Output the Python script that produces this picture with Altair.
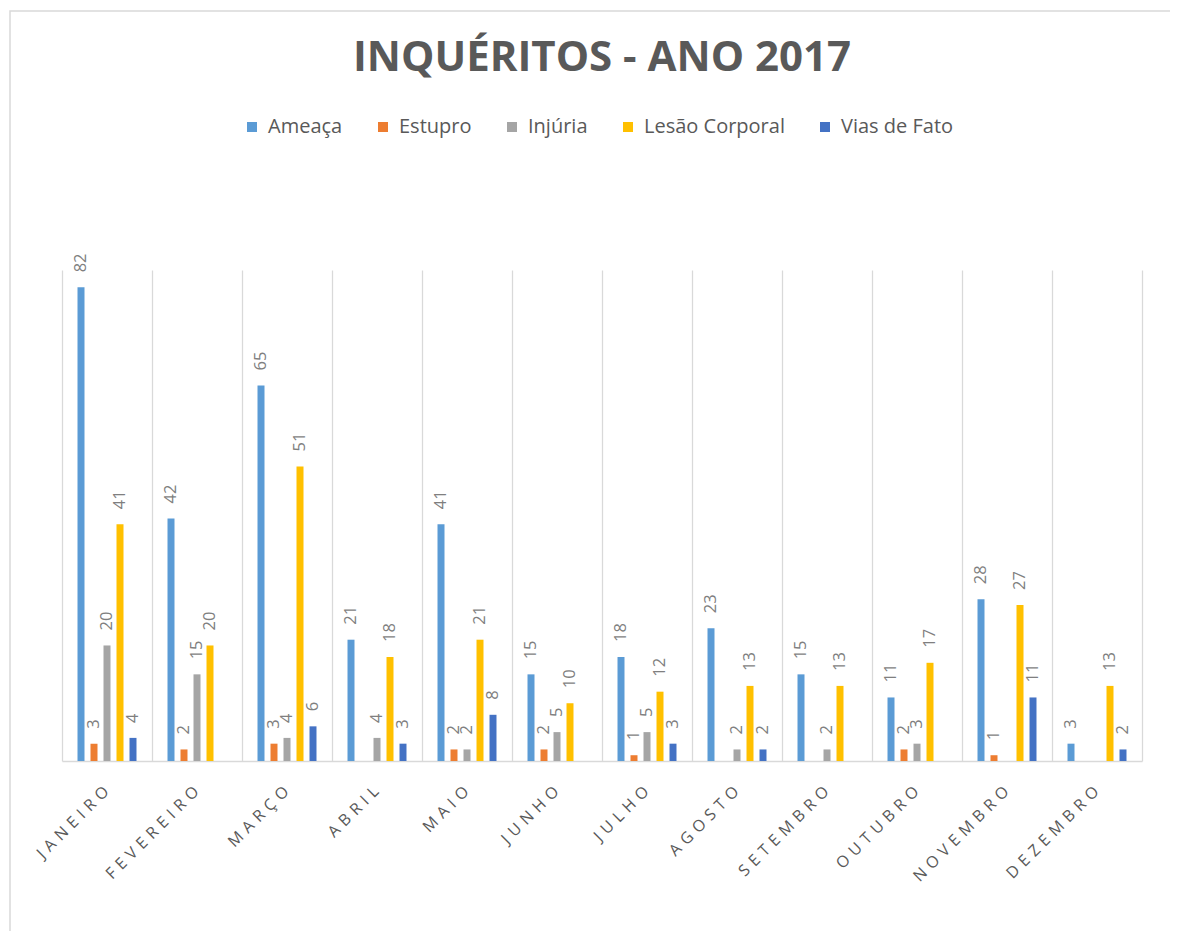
import altair as alt
import pandas as pd

months = ["JANEIRO", "FEVEREIRO", "MARÇO", "ABRIL", "MAIO", "JUNHO",
          "JULHO", "AGOSTO", "SETEMBRO", "OUTUBRO", "NOVEMBRO", "DEZEMBRO"]
series = ["Ameaça", "Estupro", "Injúria", "Lesão Corporal", "Vias de Fato"]
colors = ["#5B9BD5", "#ED7D31", "#A5A5A5", "#FFC000", "#4472C4"]

ameaca = [82, 42, 65, 21, 41, 15, 18, 23, 15, 11, 28, 3]
estupro = [3, 2, 3, None, 2, 2, 1, None, None, 2, 1, None]
injuria = [20, 15, 4, 4, 2, 5, 5, 2, 2, 3, None, None]
lesao = [41, 20, 51, 18, 21, 10, 12, 13, 13, 17, 27, 13]
vias = [4, None, 6, 3, 8, None, 3, 2, None, None, 11, 2]

rows = []
for name, vals in zip(series, [ameaca, estupro, injuria, lesao, vias]):
    for m, v in zip(months, vals):
        if v is not None:
            rows.append({"mes": m, "tipo": name, "valor": v})
df = pd.DataFrame(rows)

W, H = 1080, 491

x_enc = alt.X(
    "mes:N", sort=months, title=None,
    scale=alt.Scale(paddingInner=0, paddingOuter=0),
    axis=alt.Axis(
        labelAngle=-45, labelAlign="right", labelBaseline="top",
        labelFontSize=16, labelFont="Open Sans", labelColor="#595959",
        labelPadding=22, labelOffset=-7,
        labelExpr="join(split(datum.label, ''), '\u2009\u2009')",
        ticks=False, grid=True, gridColor="#D9D9D9", gridWidth=1.25,
        tickBand="extent", domainColor="#D9D9D9", domainWidth=1.5,
    ),
)
xo_enc = alt.XOffset(
    "tipo:N", sort=series,
    scale=alt.Scale(domain=series, range=[15.5, 74.5],
                    paddingInner=0.4615, paddingOuter=0),
)
y_enc = alt.Y("valor:Q", axis=None, scale=alt.Scale(domain=[0, 85], nice=False))

base = alt.Chart(df).encode(x=x_enc, xOffset=xo_enc, y=y_enc)

bars = base.mark_bar().encode(
    color=alt.Color(
        "tipo:N", sort=series,
        scale=alt.Scale(domain=series, range=colors),
        legend=alt.Legend(
            title=None, orient="none", direction="horizontal",
            legendX=180, legendY=-153,
            symbolType="square", symbolSize=100, symbolStrokeWidth=0,
            labelFont="Open Sans", labelFontSize=20, labelColor="#595959",
            columnPadding=30, labelOffset=6,
        ),
    )
)

labels = base.mark_text(
    angle=270, align="left", baseline="middle", dx=15,
    font="Open Sans", fontSize=16.5, color="#7F7F7F",
).encode(text=alt.Text("valor:Q"))

border = alt.Chart(pd.DataFrame({"k": [0]})).mark_rect(
    fill=None, stroke="#D9D9D9", strokeWidth=1.5
).encode(
    x=alt.value(-52), x2=alt.value(1140), y=alt.value(-259), y2=alt.value(700)
)

chart = alt.layer(border, bars, labels).properties(
    width=W, height=H,
    padding={"left": 54, "top": 262, "right": 28, "bottom": 170},
    autosize=alt.AutoSizeParams(type="none"),
    title=alt.TitleParams(
        "INQUÉRITOS - ANO 2017", font="Open Sans", fontSize=42, fontWeight="bold",
        color="#595959", anchor="middle", offset=-70,
    ),
).configure_view(stroke=None)

chart.save("out.html", embed_options={"renderer": "svg", "actions": False})
